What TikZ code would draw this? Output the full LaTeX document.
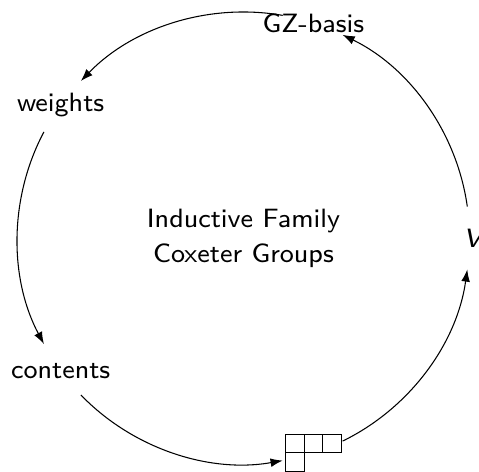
\documentclass[tikz,border=0pt]{standalone}
\usetikzlibrary{arrows.meta}
% small optical size of the sans face, enlarged
\newcommand\stationtext[1]{\scalebox{1.25}{#1}}
\begin{document}
\begin{tikzpicture}[
  font=\sffamily\fontsize{8}{10.56}\selectfont,
  cyc/.style={-{Latex[length=4.6pt,width=3.3pt]}},
  yd cell/.style={draw, line width=0.4pt},
]
\useasboundingbox (-3.232,-3.093) rectangle (3.126,3.159);
\def\R{3}
% title in the middle of the cycle
\node (center) at (0,0) {\stationtext{\begin{tabular}{@{}c@{}}Inductive Family\\Coxeter Groups\end{tabular}}};
% the five stations of the cycle
\node (V)  at (0:\R) [xshift=1.2pt] {\stationtext{\slshape V}};
\node (GZ) at (72:\R)  {\stationtext{GZ-basis}};
\node (W)  at (144:\R) {\stationtext{weights}};
\node (C)  at (216:\R) {\stationtext{contents}};
\node (T)  at (288:\R) [minimum width=21pt, minimum height=14pt, inner sep=0pt, outer sep=0pt] {};
% Young diagram of shape (3,1)
\begin{scope}[shift={(T.north west)}]
  \foreach \i in {0,1,2} \draw[yd cell] (\i*7pt,0) rectangle ++(7pt,-7pt);
  \draw[yd cell] (0,-7pt) rectangle ++(7pt,-7pt);
\end{scope}
% arc end points, 8 degrees either side of each station
\foreach \n/\a in {V/0,GZ/72,W/144,C/216,T/288}{
  \coordinate (\n-in)  at (\a-8:\R);
  \coordinate (\n-out) at (\a+8:\R);
}
\draw[cyc] (V-out)  to[bend right=28, looseness=0.9] (GZ-in);
\draw[cyc] (GZ-out) to[bend right=28, looseness=0.9] (W-in);
\draw[cyc] (W-out)  to[bend right=28, looseness=0.9] (C-in);
\draw[cyc] (C-out)  to[bend right=28, looseness=0.9] (T-in);
\draw[cyc] (T-out)  to[bend right=28, looseness=0.9] (V-in);
\end{tikzpicture}
\end{document}
